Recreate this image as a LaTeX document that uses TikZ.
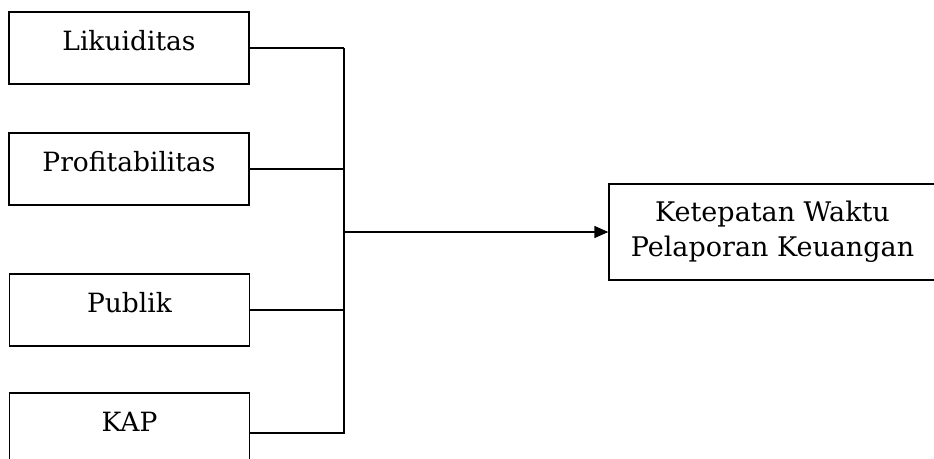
\documentclass[tikz,border=0pt]{standalone}
\usepackage{fontspec}
\setmainfont{DejaVu Serif}
\usetikzlibrary{arrows.meta}
\begin{document}
\begin{tikzpicture}[x=1pt,y=-1pt,
  varbox/.style={draw, line width=1.3pt, minimum width=240pt, minimum height=72pt,
    inner sep=0pt, text height=19pt, text depth=15pt,
    font=\fontsize{26.5}{35}\selectfont},
  tgtbox/.style={draw, line width=1.3pt, minimum width=327pt, minimum height=96pt,
    inner sep=0pt, align=center, font=\fontsize{27}{35}\selectfont},
  link/.style={line width=1.3pt}]
\useasboundingbox (0,0) rectangle (934,458);
\clip (0,0) rectangle (934,458);
\fill[white] (0,0) rectangle (934,458);
\node[varbox] (lik) at (129,48) {Likuiditas};
\node[varbox] (pro) at (129,169) {Profitabilitas};
\node[varbox] (pub) at (129.5,310) {Publik};
\node[varbox] (kap) at (129.5,429) {KAP};
\node[tgtbox] (tgt) at (772.5,232) {Ketepatan Waktu\\Pelaporan Keuangan};
\coordinate (spine) at (344,0);
\draw[link] (lik.east) -- (lik.east -| spine);
\draw[link] (pro.east) -- (pro.east -| spine);
\draw[link] (pub.east) -- (pub.east -| spine);
\draw[link] ([yshift=-4pt]kap.east) -| (lik.east -| spine);
\draw[link, -{Triangle[length=14pt,width=12pt]}] (spine |- tgt.west) -- (tgt.west);
\end{tikzpicture}
\end{document}
